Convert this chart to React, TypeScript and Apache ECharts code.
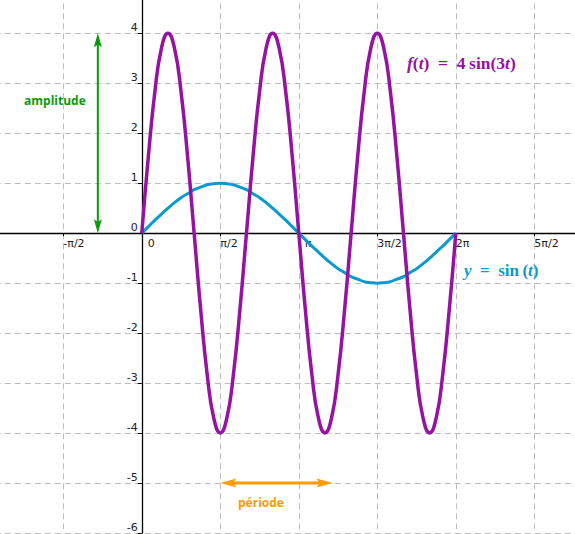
import React, { useEffect, useRef } from "react";
import * as echarts from "echarts";

// x axis is measured in units of π/2; only the visible ticks carry labels
const X_TICK_LABELS = ["", "-π/2", "0", "π/2", "π", "3π/2", "2π", "5π/2", ""]; // values -2..6
const Y_TICK_LABELS = ["-6", "-5", "-4", "-3", "-2", "-1", "0", "1", "2", "3", "4", ""]; // values -6..5
const X_MIN = -2;
const X_MAX = 6;
const Y_MIN = -6;
const Y_MAX = 5;

// samples every π/24 from t = 0 to t = 2π (49 samples)
const SAMPLE_STEP = 1 / 12;
const F_VALUES = [
  0, 1.53, 2.83, 3.7, 4, 3.7, 2.83, 1.53, 0, -1.53, -2.83, -3.7, -4, -3.7, -2.83, -1.53,
  0, 1.53, 2.83, 3.7, 4, 3.7, 2.83, 1.53, 0, -1.53, -2.83, -3.7, -4, -3.7, -2.83, -1.53,
  0, 1.53, 2.83, 3.7, 4, 3.7, 2.83, 1.53, 0, -1.53, -2.83, -3.7, -4, -3.7, -2.83, -1.53,
  0,
];
const SIN_VALUES = [
  0, 0.13, 0.26, 0.38, 0.5, 0.61, 0.71, 0.79, 0.87, 0.92, 0.97, 0.99,
  1, 0.99, 0.97, 0.92, 0.87, 0.79, 0.71, 0.61, 0.5, 0.38, 0.26, 0.13,
  0, -0.13, -0.26, -0.38, -0.5, -0.61, -0.71, -0.79, -0.87, -0.92, -0.97, -0.99,
  -1, -0.99, -0.97, -0.92, -0.87, -0.79, -0.71, -0.61, -0.5, -0.38, -0.26, -0.13,
  0,
];

const AMPLITUDE_X = -0.56;
const AMPLITUDE_FROM = 0;
const AMPLITUDE_TO = 4;
const PERIOD_Y = -5;
const PERIOD_FROM = 1;
const PERIOD_TO = 2.43;

const PURPLE = "#9512a3";
const BLUE = "#0a9ad0";
const GREEN = "#0b9a0b";
const ORANGE = "#ff9a00";

const GRID_LEFT = -15.2;
const GRID_RIGHT = -37.8;
const GRID_TOP = -16.7;
const GRID_BOTTOM = 1;
const W = 575;
const H = 534;

function arrow(
  a: number[],
  b: number[],
  color: string,
  width: number,
  headLen: number,
  headHalf: number
) {
  const dx = b[0] - a[0];
  const dy = b[1] - a[1];
  const len = Math.hypot(dx, dy);
  const ux = dx / len;
  const uy = dy / len;
  const nx = -uy;
  const ny = ux;
  const head = (tip: number[], dir: number) => {
    const bx = tip[0] - dir * ux * headLen;
    const by = tip[1] - dir * uy * headLen;
    const mx = tip[0] - dir * ux * headLen * 0.8;
    const my = tip[1] - dir * uy * headLen * 0.8;
    return {
      type: "polygon",
      shape: {
        points: [
          tip,
          [bx + nx * headHalf, by + ny * headHalf],
          [mx, my],
          [bx - nx * headHalf, by - ny * headHalf],
        ],
      },
      style: { fill: color },
      z: 10,
    };
  };
  return [
    {
      type: "line",
      shape: {
        x1: a[0] + ux * headLen * 0.7,
        y1: a[1] + uy * headLen * 0.7,
        x2: b[0] - ux * headLen * 0.7,
        y2: b[1] - uy * headLen * 0.7,
      },
      style: { stroke: color, lineWidth: width },
      z: 10,
    },
    head(a, -1),
    head(b, 1),
  ];
}

export default function App() {
  const ref = useRef<HTMLDivElement>(null);
  useEffect(() => {
    if (!ref.current) return;
    const chart = echarts.init(ref.current, null, { renderer: "svg" });
    const fData = F_VALUES.map((v, i) => [i * SAMPLE_STEP, v]);
    const sData = SIN_VALUES.map((v, i) => [i * SAMPLE_STEP, v]);
    const serif = "'Liberation Serif', 'DejaVu Serif', serif";
    const sans = "'DejaVu Sans', sans-serif";

    // place axes through the origin using offsets from the grid edges
    const xUnit = (W - GRID_LEFT - GRID_RIGHT) / (X_MAX - X_MIN);
    const yUnit = (H - GRID_TOP - GRID_BOTTOM) / (Y_MAX - Y_MIN);
    const zeroX = GRID_LEFT + (0 - X_MIN) * xUnit;
    const zeroY = H - GRID_BOTTOM - (0 - Y_MIN) * yUnit;
    const xOffset = -(H - GRID_BOTTOM - zeroY);
    const yOffset = -(zeroX - GRID_LEFT);

    chart.setOption({
      animation: false,
      grid: {
        left: GRID_LEFT,
        right: GRID_RIGHT,
        top: GRID_TOP,
        bottom: GRID_BOTTOM,
        containLabel: false,
        outerBoundsMode: "none",
      },
      xAxis: {
        type: "value",
        min: X_MIN,
        max: X_MAX,
        interval: 1,
        offset: xOffset,
        axisLine: { onZero: false, lineStyle: { color: "#000", width: 1.3 } },
        axisTick: { show: true, length: 3, lineStyle: { color: "#000" } },
        splitLine: {
          show: true,
          lineStyle: { color: "#bdbdbd", type: [6, 4], width: 1 },
        },
        axisLabel: {
          show: true,
          align: "left",
          margin: 5,
          color: "#222",
          fontSize: 11,
          fontFamily: sans,
          formatter: (v: number) => {
            const s = X_TICK_LABELS[Math.round(v) - X_MIN] ?? "";
            if (s === "0" || s === "π") return `{o|${s}}`;
            return s;
          },
          rich: {
            o: {
              padding: [0, 0, 0, 6],
              fontSize: 11,
              color: "#222",
              fontFamily: sans,
            },
          },
        },
      },
      yAxis: {
        type: "value",
        min: Y_MIN,
        max: Y_MAX,
        interval: 1,
        offset: yOffset,
        axisLine: { show: true, onZero: false, lineStyle: { color: "#000", width: 1.3 } },
        axisTick: { show: true, length: 4, lineStyle: { color: "#000" } },
        splitLine: {
          show: true,
          lineStyle: { color: "#bdbdbd", type: [6, 4], width: 1 },
        },
        axisLabel: {
          show: true,
          margin: 4,
          color: "#222",
          fontSize: 11,
          lineHeight: 11,
          verticalAlign: "bottom",
          fontFamily: sans,
          formatter: (v: number) => Y_TICK_LABELS[Math.round(v) - Y_MIN] ?? "",
        },
      },
      series: [
        {
          type: "line",
          data: sData,
          showSymbol: false,
          smooth: true,
          lineStyle: { color: BLUE, width: 3 },
          z: 3,
        },
        {
          type: "line",
          data: fData,
          showSymbol: false,
          smooth: true,
          lineStyle: { color: PURPLE, width: 3.5 },
          z: 4,
        },
      ],
    });

    const toPx = (p: number[]) => chart.convertToPixel({ gridIndex: 0 }, p) as number[];
    const ampA = toPx([AMPLITUDE_X, AMPLITUDE_FROM]);
    const ampB = toPx([AMPLITUDE_X, AMPLITUDE_TO]);
    const perA = toPx([PERIOD_FROM, PERIOD_Y]);
    const perB = toPx([PERIOD_TO, PERIOD_Y]);

    chart.setOption({
      graphic: [
        ...arrow(ampA, ampB, GREEN, 2, 14, 4),
        ...arrow(perA, perB, ORANGE, 3, 16, 4.5),
        {
          type: "text",
          x: 24,
          y: 100,
          style: {
            text: "amplitude",
            fill: GREEN,
            font: "bold 12px 'Open Sans', sans-serif",
            verticalAlign: "middle",
          },
        },
        {
          type: "text",
          x: 238,
          y: 502,
          style: {
            text: "période",
            fill: ORANGE,
            font: "bold 12px 'Open Sans', sans-serif",
            verticalAlign: "middle",
          },
        },
        {
          type: "text",
          x: 407,
          y: 63,
          style: {
            text: "{i|f}{r|(}{i|t}{r|)\u2002=\u20024\u2009sin(3}{i|t}{r|)}",
            verticalAlign: "middle",
            rich: {
              i: { fill: PURPLE, fontFamily: serif, fontStyle: "italic", fontWeight: "bold", fontSize: 17.5 },
              r: { fill: PURPLE, fontFamily: serif, fontWeight: "bold", fontSize: 17.5 },
            },
          },
        },
        {
          type: "text",
          x: 464,
          y: 270,
          style: {
            text: "{i|y}{r|\u2002=\u2002sin\u2009(}{i|t}{r|)}",
            verticalAlign: "middle",
            rich: {
              i: { fill: BLUE, fontFamily: serif, fontStyle: "italic", fontWeight: "bold", fontSize: 17 },
              r: { fill: BLUE, fontFamily: serif, fontWeight: "bold", fontSize: 17 },
            },
          },
        },
      ],
    });
    return () => chart.dispose();
  }, []);
  return (
    <div
      ref={ref}
      style={{ position: "fixed", left: 0, top: 0, width: W, height: H, background: "#fff" }}
    />
  );
}
